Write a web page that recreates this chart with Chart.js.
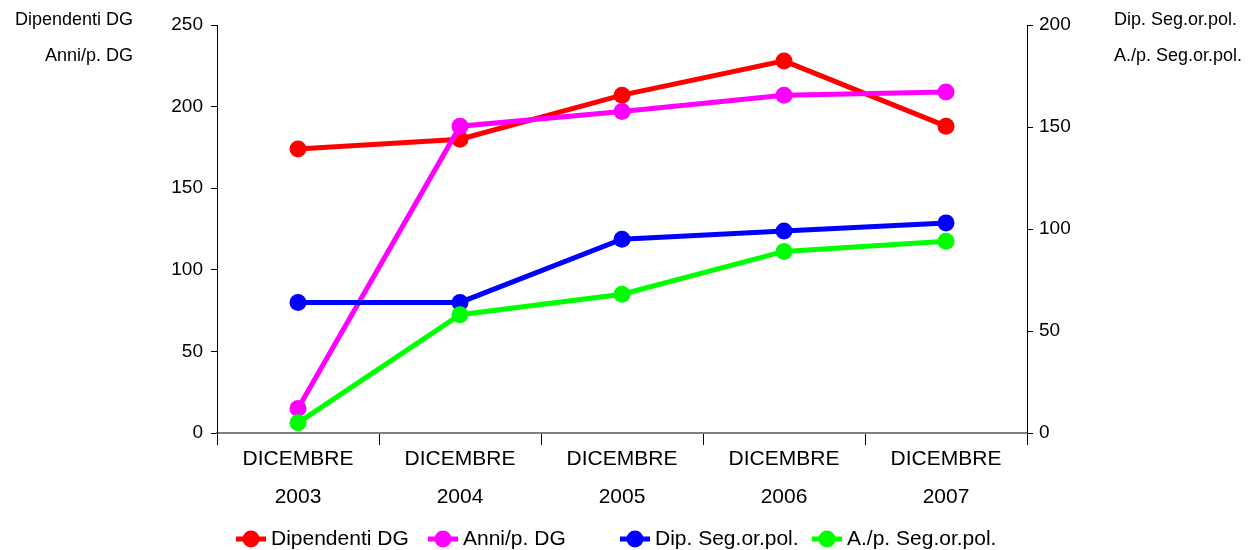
<!DOCTYPE html>
<html>
<head>
<meta charset="utf-8">
<script src="https://cdn.jsdelivr.net/npm/chart.js@4"></script>
<style>
  html, body { margin: 0; padding: 0; background: #fff; }
</style>
</head>
<body>
<canvas id="grafico" width="1249" height="550"></canvas>
<script>
// dati
var periodi = [['DICEMBRE', '2003'], ['DICEMBRE', '2004'], ['DICEMBRE', '2005'], ['DICEMBRE', '2006'], ['DICEMBRE', '2007']];
var dipendentiDG = [174, 180, 207, 228, 188];
var anniDG = [15, 188, 197, 207, 209];
var dipSegOrPol = [64, 64, 95, 99, 103];
var anniSegOrPol = [5, 58, 68, 89, 94];
var tickSinistra = [0, 50, 100, 150, 200, 250];
var tickDestra = [0, 50, 100, 150, 200];

var FONT = '"Liberation Sans", Arial, sans-serif';

// legenda e titoli degli assi disegnati a mano
var extraPlugin = {
    id: 'extra',
    afterDraw: function (chart) {
        var c = chart.ctx;
        c.save();
        c.textBaseline = 'middle';

        // titoli assi
        c.font = '18px ' + FONT;
        c.fillStyle = '#000';
        c.textAlign = 'right';
        c.fillText('Dipendenti DG', 133, 20);
        c.fillText('Anni/p. DG', 133, 56);
        c.textAlign = 'left';
        c.fillText('Dip. Seg.or.pol.', 1114, 20);
        c.fillText('A./p. Seg.or.pol.', 1114, 56);

        // legenda
        c.font = '21px ' + FONT;
        chart.data.datasets.forEach(function (ds, i) {
            var x = 236 + i * 192, y = 539;
            c.strokeStyle = ds.borderColor;
            c.lineWidth = 5;
            c.beginPath();
            c.moveTo(x, y);
            c.lineTo(x + 30, y);
            c.stroke();
            c.fillStyle = ds.borderColor;
            c.beginPath();
            c.arc(x + 15, y, 8.5, 0, Math.PI * 2);
            c.fill();
            c.fillStyle = '#000';
            c.fillText(ds.label, x + 35, y);
        });
        c.restore();
    }
};

function serie(label, data, colore, asse, ordine) {
    return {
        label: label,
        data: data,
        yAxisID: asse,
        order: ordine,
        borderColor: colore,
        backgroundColor: colore,
        borderWidth: 5,
        pointRadius: 8.5,
        pointHoverRadius: 8.5,
        pointBorderWidth: 0,
        tension: 0
    };
}

var ctx = document.getElementById('grafico').getContext('2d');
var chart = new Chart(ctx, {
    type: 'line',
    data: {
        labels: periodi,
        datasets: [
            serie('Dipendenti DG', dipendentiDG, 'rgb(255, 0, 0)', 'ySx', 3),
            serie('Anni/p. DG', anniDG, 'rgb(255, 0, 255)', 'ySx', 2),
            serie('Dip. Seg.or.pol.', dipSegOrPol, 'rgb(0, 0, 255)', 'yDx', 1),
            serie('A./p. Seg.or.pol.', anniSegOrPol, 'rgb(0, 255, 0)', 'yDx', 0)
        ]
    },
    options: {
        responsive: false,
        animation: false,
        layout: { padding: { top: 25, left: 0, right: 0, bottom: 0 } },
        plugins: {
            legend: { display: false },
            tooltip: { enabled: false }
        },
        scales: {
            x: {
                offset: true,
                grid: {
                    offset: true,
                    drawOnChartArea: false,
                    tickLength: 12,
                    color: '#000',
                    lineWidth: 1
                },
                border: { color: '#808080', width: 2 },
                ticks: {
                    color: '#000',
                    padding: -5,
                    maxRotation: 0,
                    font: { family: FONT, size: 21, lineHeight: 38 / 21 }
                },
                afterFit: function (s) { s.height = 117; }
            },
            ySx: {
                position: 'left',
                min: 0,
                max: 250,
                afterBuildTicks: function (s) { s.ticks = tickSinistra.map(function (v) { return { value: v }; }); },
                grid: { drawOnChartArea: false, tickLength: 6, color: '#000' },
                border: { color: '#000', width: 1 },
                ticks: { color: '#000', padding: 8, font: { family: FONT, size: 19 } },
                afterFit: function (s) { s.width = 217; }
            },
            yDx: {
                position: 'right',
                min: 0,
                max: 200,
                afterBuildTicks: function (s) { s.ticks = tickDestra.map(function (v) { return { value: v }; }); },
                grid: { drawOnChartArea: false, tickLength: 6, color: '#000' },
                border: { color: '#000', width: 1 },
                ticks: { color: '#000', padding: 6, font: { family: FONT, size: 19 } },
                afterFit: function (s) { s.width = 222; }
            }
        }
    },
    plugins: [extraPlugin]
});
</script>
</body>
</html>
